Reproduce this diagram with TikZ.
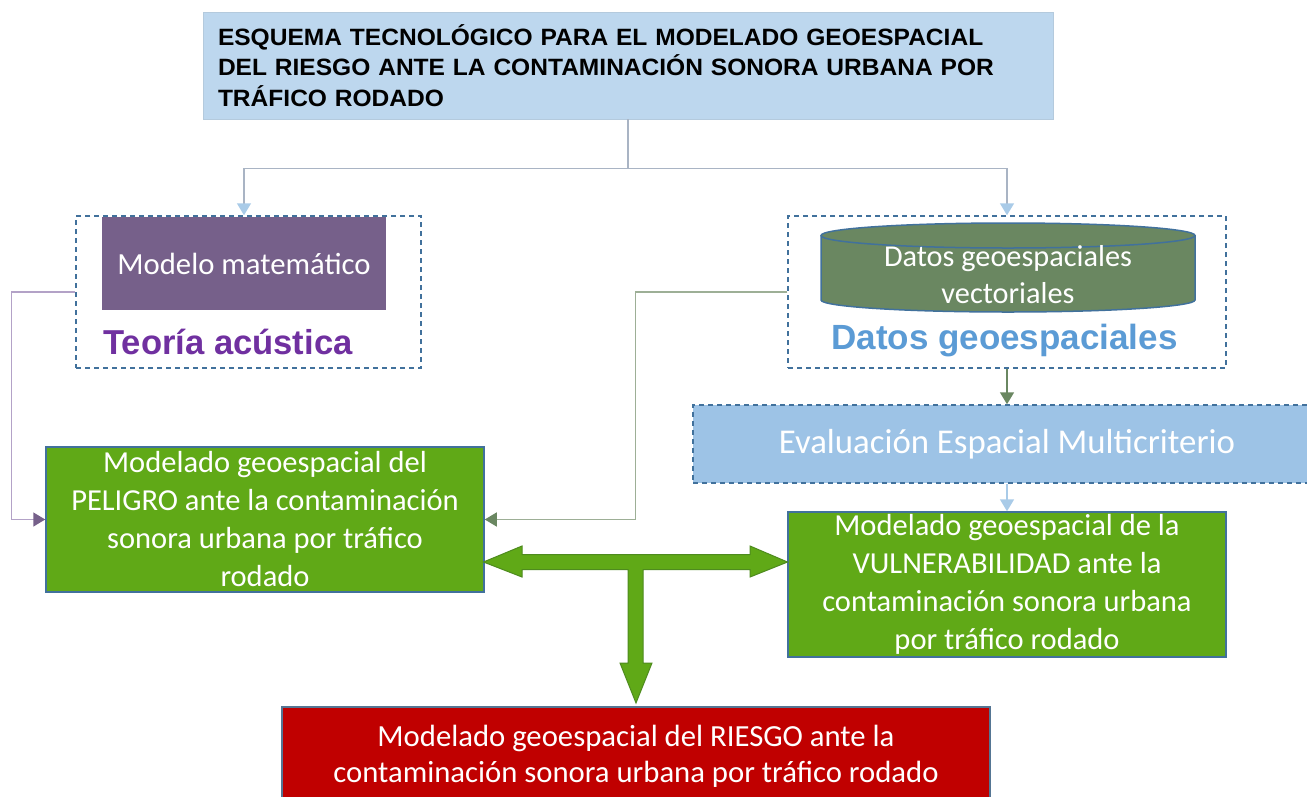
\documentclass[tikz,border=0pt]{standalone}
\usepackage{fontspec}
\setmainfont{Carlito}
\newfontfamily\arialfont{Liberation Sans}
\newfontfamily\titlefont{Liberation Sans}[FakeStretch=1.04]
\usetikzlibrary{arrows.meta}
\definecolor{titlebg}{HTML}{BDD7EE}
\definecolor{dashblue}{HTML}{41719C}
\definecolor{purplebox}{HTML}{76608A}
\definecolor{purpletext}{HTML}{7030A0}
\definecolor{olive}{HTML}{6A8761}
\definecolor{bluetext}{HTML}{5B9BD5}
\definecolor{evalbg}{HTML}{9DC3E6}
\definecolor{greenbg}{HTML}{60A917}
\definecolor{greenedge}{HTML}{4E8B1E}
\definecolor{redbg}{HTML}{C00000}
\definecolor{greyconn}{HTML}{A9B4C4}
\definecolor{lightblue}{HTML}{A9CBE8}
\definecolor{lightpurple}{HTML}{B3A2C7}
\definecolor{oliveconn}{HTML}{9DAF96}
\tikzset{
  dashbox/.style={draw=dashblue, line width=1.5pt, dash pattern=on 5pt off 4pt, inner sep=0pt},
  greenbox/.style={fill=greenbg, draw=dashblue, line width=1.5pt, inner sep=0pt, minimum width=438pt, minimum height=145pt, text=white, align=center, font=\fontsize{30.5}{38}\selectfont},
  conn/.style={line width=1.5pt},
  tipblue/.style={-{Triangle[length=12pt,width=14pt,color=lightblue]}},
}
\begin{document}
\begin{tikzpicture}[x=1pt,y=-1pt]
\useasboundingbox (0,0) rectangle (1307,796);
\fill[white] (0,0) rectangle (1307,796);
% title
\node[fill=titlebg, draw=titlebg!85!gray, line width=0.8pt, minimum height=107pt, text width=820pt, inner xsep=15pt, inner ysep=0pt, align=left, font=\titlefont\bfseries\fontsize{23.6}{30.5}\selectfont] (title) at (628,65.5)
{ESQUEMA TECNOLÓGICO PARA EL MODELADO GEOESPACIAL\\DEL RIESGO ANTE LA CONTAMINACIÓN SONORA URBANA POR\\TRÁFICO RODADO};
% dashed groups
\node[dashbox, minimum width=345pt, minimum height=152pt] (ldash) at (248.5,292) {};
\node[dashbox, minimum width=438pt, minimum height=152pt] (rdash) at (1007,292) {};
% purple box
\node[fill=purplebox, inner sep=0pt, minimum width=284pt, minimum height=93pt, text=white, font=\fontsize{30.7}{36}\selectfont] (mm) at (244,263.5) {Modelo matemático};
\node[anchor=base west, inner sep=0pt, text=purpletext, font=\arialfont\bfseries\fontsize{34.6}{40}\selectfont] (teo) at (103,354) {Teoría acústica};
% cylinder
\fill[olive] (821,235.5) -- (821,300) .. controls (821,306.6) and (904.7,312) .. (1008,312) .. controls (1111.3,312) and (1195,306.6) .. (1195,300) -- (1195,235.5) .. controls (1195,228.6) and (1111.3,223) .. (1008,223) .. controls (904.7,223) and (821,228.6) .. (821,235.5) -- cycle;
\draw[dashblue, line width=1.5pt] (821,235.5) -- (821,300) .. controls (821,306.6) and (904.7,312) .. (1008,312) .. controls (1111.3,312) and (1195,306.6) .. (1195,300) -- (1195,235.5);
\draw[dashblue, line width=1.5pt] (821,235.5) .. controls (821,228.6) and (904.7,223) .. (1008,223) .. controls (1111.3,223) and (1195,228.6) .. (1195,235.5) .. controls (1195,242.4) and (1111.3,248) .. (1008,248) .. controls (904.7,248) and (821,242.4) .. (821,235.5) -- cycle;
\node[text=white, align=center, inner sep=0pt, font=\fontsize{30.3}{37}\selectfont] (cyl) at (1008,275) {Datos geoespaciales\\vectoriales};
\node[anchor=base, inner sep=0pt, text=bluetext, font=\arialfont\bfseries\fontsize{35}{40}\selectfont] (dgeo) at (1004.5,349) {Datos geoespaciales};
% evaluation box
\node[fill=evalbg, dashbox, minimum width=628pt, minimum height=78pt, text=white, font=\fontsize{34.8}{40}\selectfont] (eval) at (1007,444) {Evaluación Espacial Multicriterio};
% green boxes
\node[greenbox] (pel) at (265,519.5) {Modelado geoespacial del\\PELIGRO ante la contaminación\\sonora urbana por tráfico\\rodado};
\node[greenbox] (vul) at (1007,584.5) {Modelado geoespacial de la\\VULNERABILIDAD ante la\\contaminación sonora urbana\\por tráfico rodado};
% red box
\node[fill=redbg, draw=dashblue!70!gray, line width=1.2pt, inner sep=0pt, minimum width=708pt, minimum height=98pt, text=white, align=center, font=\fontsize{30.7}{36}\selectfont] (riesgo) at (636,756) {Modelado geoespacial del RIESGO ante la\\contaminación sonora urbana por tráfico rodado};
% connectors from title
\draw[conn, greyconn, tipblue] (title.south) -- ++(0,49) coordinate (split) -| (mm.north |- ldash.north);
\draw[conn, greyconn, tipblue] (split) -| (rdash.north);
% purple connector
\draw[conn, lightpurple, -{Triangle[length=12pt,width=14pt,color=purplebox]}] (ldash.west) -- ++(-64,0) |- (pel.west);
% olive connector
\draw[conn, oliveconn, -{Triangle[length=12pt,width=14pt,color=olive]}] (rdash.west) -- ++(-152,0) |- (pel.east);
% down arrows
\draw[conn, olive, -{Triangle[length=12pt,width=14pt]}] (rdash.south) -- (eval.north);
\draw[conn, lightblue, -{Triangle[length=12pt,width=14pt]}] (eval.south) -- (vul.north);
% big T arrow
\fill[greenbg, draw=greenedge, line width=1pt, line join=miter]
  (483.5,562) -- (522,546) -- (522,554.5) -- (750,554.5) -- (750,546) -- (787.5,562)
  -- (750,577) -- (750,569.5) -- (643,569.5) -- (643,663) -- (652,663) -- (636,703)
  -- (620,663) -- (628,663) -- (628,569.5) -- (522,569.5) -- (522,577) -- cycle;
\end{tikzpicture}
\end{document}
